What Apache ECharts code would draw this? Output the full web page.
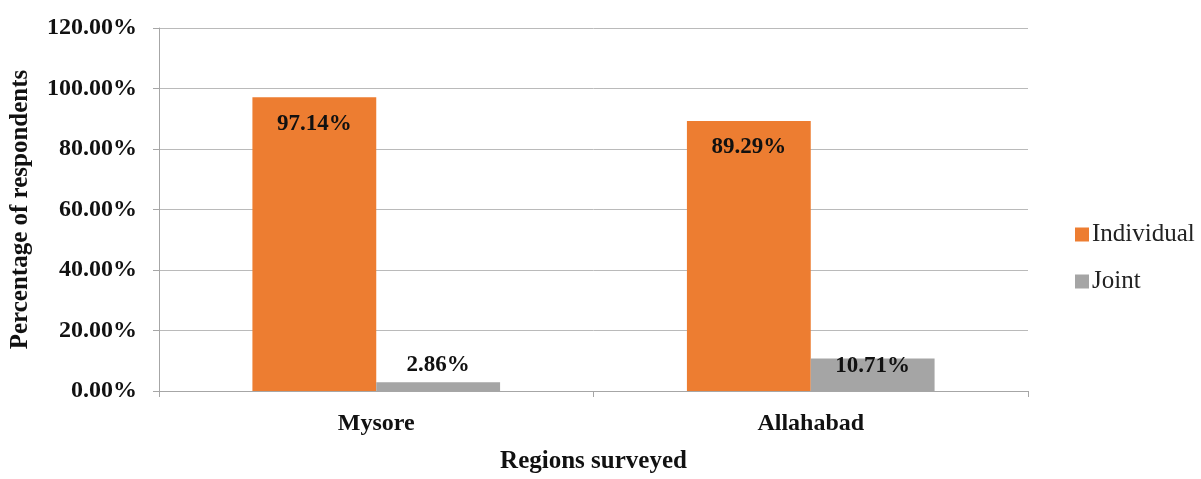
<!DOCTYPE html>
<html>
<head>
<meta charset="utf-8">
<script src="https://cdn.jsdelivr.net/npm/echarts@6/dist/echarts.min.js"></script>
<style>html,body{margin:0;padding:0;background:#fff;}#c{width:1201px;height:479px;}</style>
</head>
<body>
<div id="c"></div>
<script>
const categories = ['Mysore', 'Allahabad'];
const individual = [97.14, 89.29];
const joint = [2.86, 10.71];
const seriesNames = ['Individual', 'Joint'];
const yTicks = { min: 0, max: 120, interval: 20 };

const FONT = '"Liberation Serif", "DejaVu Serif", serif';
const chart = echarts.init(document.getElementById('c'), null, { renderer: 'canvas' });
const fmt = v => v.toFixed(2) + '%';

chart.setOption({
  animation: false,
  backgroundColor: '#fff',
  textStyle: { fontFamily: FONT },
  grid: { left: 157, width: 871, top: 28, height: 368, containLabel: false },
  legend: {
    orient: 'vertical',
    left: 1070,
    top: 217,
    itemWidth: 14,
    itemHeight: 14,
    itemGap: 22,
    icon: 'rect',
    textStyle: { fontFamily: FONT, fontSize: 25, color: '#222', padding: [0, 0, 0, -2] },
    data: seriesNames
  },
  xAxis: {
    type: 'category',
    data: categories,
    name: 'Regions surveyed',
    nameLocation: 'middle',
    nameGap: 58,
    nameTextStyle: { fontFamily: FONT, fontSize: 25, fontWeight: 'bold', color: '#111' },
    axisLine: { show: true, lineStyle: { color: '#A6A6A6', width: 1 } },
    axisTick: { show: true, alignWithLabel: false, length: 6, lineStyle: { color: '#A6A6A6' } },
    axisLabel: { fontFamily: FONT, fontSize: 24, fontWeight: 'bold', color: '#111', margin: 21 }
  },
  yAxis: {
    type: 'value',
    min: yTicks.min, max: yTicks.max, interval: yTicks.interval,
    name: 'Percentage of respondents',
    nameLocation: 'middle',
    nameRotate: 90,
    nameGap: 126,
    nameTextStyle: { fontFamily: FONT, fontSize: 25, fontWeight: 'bold', color: '#111' },
    axisLine: { show: true, lineStyle: { color: '#A6A6A6', width: 1 } },
    axisTick: { show: true, length: 6, lineStyle: { color: '#A6A6A6' } },
    splitLine: { show: true, lineStyle: { color: '#BABABA', width: 1 } },
    axisLabel: { fontFamily: FONT, fontSize: 24, fontWeight: 'bold', color: '#111', margin: 22, formatter: fmt }
  },
  series: [
    {
      name: seriesNames[0],
      type: 'bar',
      data: individual,
      barWidth: '28.5%',
      barGap: '0%',
      itemStyle: { color: '#ED7D31' },
      label: {
        show: true, position: 'insideTop', distance: 15,
        fontFamily: FONT, fontSize: 23, fontWeight: 'bold', color: '#111',
        formatter: p => fmt(p.value)
      }
    },
    {
      name: seriesNames[1],
      type: 'bar',
      data: [
        { value: joint[0], label: { position: 'top', distance: 6 } },
        { value: joint[1], label: { position: 'insideTop', distance: -4 } }
      ],
      barWidth: '28.5%',
      barGap: '0%',
      itemStyle: { color: '#A5A5A5' },
      label: {
        show: true,
        fontFamily: FONT, fontSize: 23, fontWeight: 'bold', color: '#111',
        formatter: p => fmt(p.value)
      }
    }
  ]
});
</script>
</body>
</html>
